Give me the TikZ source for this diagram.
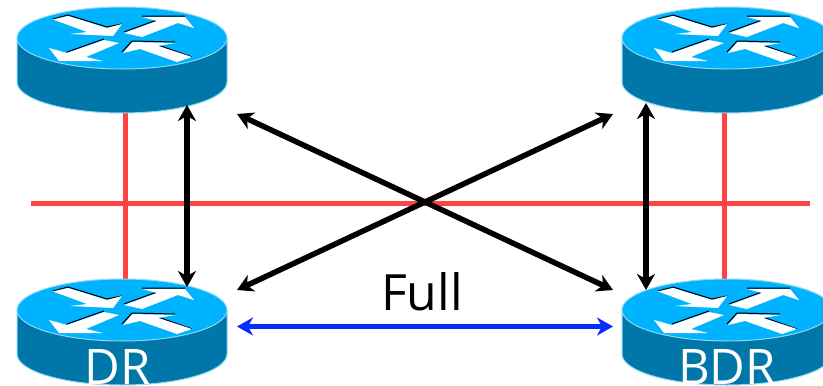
\documentclass[tikz,border=0pt]{standalone}
\usepackage{fontspec}
\setmainfont{Open Sans}
\usetikzlibrary{arrows.meta}
\definecolor{routertop}{HTML}{00B3FF}
\definecolor{routerside}{HTML}{0077A8}
\definecolor{routeredge}{HTML}{8AD8F5}
\definecolor{linkred}{HTML}{FF4242}
\definecolor{linkblue}{HTML}{0A2DFF}
\tikzset{
	wire/.style={linkred,line width=5pt},
	adj/.style={black,line width=5.5pt,{Stealth[length=16pt,width=18pt,inset=5pt]}-{Stealth[length=16pt,width=18pt,inset=5pt]}},
	fulladj/.style={adj,linkblue},
	routerlabel/.style={white,font=\fontsize{49}{49}\selectfont,inner sep=0pt,anchor=base},
	fulllabel/.style={black,font=\fontsize{50}{50}\selectfont,inner sep=0pt,anchor=base},
	arrowshadow/.style={black,line width=1pt},
	router/.pic={
		\draw[routeredge,line width=1pt,fill=routerside] (-105,0) -- (-105,44) arc[start angle=180,end angle=360,x radius=105,y radius=-31] -- (105,0) -- cycle;
		\draw[routeredge,line width=1pt,fill=routertop] (0,0) ellipse[x radius=105,y radius=31];
		% four arrows on the lid
		\draw[arrowshadow] (-69,-19) -- (-54,-23) -- (-15,-11) -- (0,-14);
		\draw[arrowshadow] (2,-6) -- (35,-18) (20,-22) -- (63,-22);
		\draw[arrowshadow] (-55,14) -- (-18,1);
		\draw[arrowshadow] (0,14) -- (10,3) -- (53,4) (36,7) -- (70,19);
		\fill[white] (-69,-18.5) -- (-54,-22) -- (-15,-10) -- (0,-14) -- (-9,-2) -- (-52,-4) -- (-35,-6) -- cycle;
		\fill[white] (2,-5) -- (35,-17) -- (20,-21) -- (63,-21) -- (72,-10) -- (56,-15) -- (20,-1) -- cycle;
		\fill[white] (-73,10) -- (-55,15) -- (-18,2) -- (-3,5) -- (-36,19) -- (-19,23) -- (-63,23) -- cycle;
		\fill[white] (1,15) -- (10.5,4) -- (53,5) -- (36,8) -- (70,19) -- (55,24) -- (18,11) -- cycle;
	}
}
\begin{document}
\begin{tikzpicture}[x=1pt,y=-1pt]
	\useasboundingbox (0,0) rectangle (823,386);
	
	\coordinate (tl) at (122,38);
	\coordinate (tr) at (727,38);
	\coordinate (bl) at (122,310);
	\coordinate (br) at (727,310);
	
	\coordinate (wl) at (31,203);
	\coordinate (wr) at (810,203);
	\coordinate (wtl) at (125,100);
	\coordinate (wbl) at (125,290);
	\coordinate (wtr) at (724,100);
	\coordinate (wbr) at (724,290);
	
	\draw[wire] (wl) -- (wr);
	\draw[wire] (wtl) -- (wbl);
	\draw[wire] (wtr) -- (wbr);
	
	\pic at (tl) {router};
	\pic at (tr) {router};
	\pic at (bl) {router};
	\pic at (br) {router};
	
	\node[routerlabel] (dr) at (118,384.5) {DR};
	\node[routerlabel] (bdr) at (727,384.5) {BDR};
	\node[fulllabel] (full) at (422,310) {Full};
	
	\coordinate (a) at (187,105);
	\coordinate (b) at (187,287);
	\coordinate (c) at (646,103);
	\coordinate (d) at (646,290);
	\coordinate (e) at (237,114);
	\coordinate (f) at (613,290);
	\coordinate (g) at (237,290);
	\coordinate (h) at (613,114);
	\coordinate (i) at (237,326.5);
	\coordinate (j) at (613,326.5);
	
	\draw[adj] (a) -- (b);
	\draw[adj] (c) -- (d);
	\draw[adj] (e) -- (f);
	\draw[adj] (g) -- (h);
	\draw[fulladj] (i) -- (j);
	
\end{tikzpicture}
\end{document}
